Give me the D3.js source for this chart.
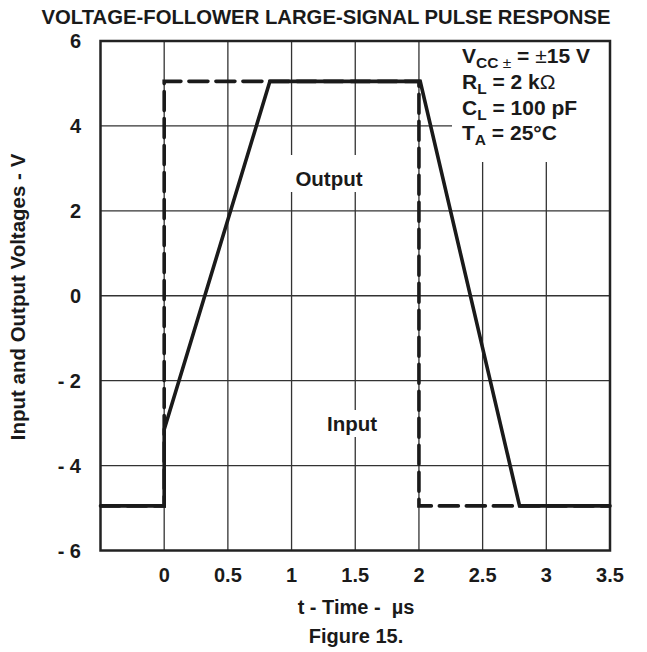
<!DOCTYPE html>
<html><head><meta charset="utf-8">
<script src="https://cdn.jsdelivr.net/npm/d3@7"></script>
<style>body{margin:0;background:#fff}svg{display:block}text{font-family:"Liberation Sans",Arial,Helvetica,sans-serif;font-weight:bold;fill:#1a1a1a}</style>
</head><body>
<script>
const title = "VOLTAGE-FOLLOWER LARGE-SIGNAL PULSE RESPONSE";
const xTicks = [0, 0.5, 1, 1.5, 2, 2.5, 3, 3.5];
const xTickLabels = ["0", "0.5", "1", "1.5", "2", "2.5", "3", "3.5"];
const yTicks = [6, 4, 2, 0, -2, -4, -6];
const yTickLabels = ["6", "4", "2", "0", "- 2", "- 4", "- 6"];
const inputT = [-0.5, 0, 0, 2, 2, 3.5];
const inputV = [-4.95, -4.95, 5.05, 5.05, -4.95, -4.95];
const outputT = [-0.5, 0, 0, 0.83, 2.01, 2.79, 3.5];
const outputV = [-4.95, -4.95, -3.15, 5.05, 5.05, -4.95, -4.95];

const W = 647, H = 652;
const svg = d3.select("body").append("svg").attr("width", W).attr("height", H);
const x = d3.scaleLinear().domain([-0.5, 3.5]).range([100.5, 610]);
const y = d3.scaleLinear().domain([-6, 6]).range([550.5, 41]);

// gridlines
const grid = svg.append("g").attr("stroke", "#333").attr("stroke-width", 1.3);
xTicks.filter(t => t > -0.5 && t < 3.5).forEach(t => {
  grid.append("line").attr("x1", x(t)).attr("x2", x(t)).attr("y1", y(6)).attr("y2", y(-6));
});
yTicks.filter(v => v > -6 && v < 6).forEach(v => {
  grid.append("line").attr("x1", x(-0.5)).attr("x2", x(3.5)).attr("y1", y(v)).attr("y2", y(v));
});

// white masks behind annotations (gridlines interrupted)
svg.append("rect").attr("x", 452).attr("y", y(6)).attr("width", x(3.5) - 452).attr("height", 162 - y(6)).attr("fill", "#fff");
svg.append("rect").attr("x", 286).attr("y", 155).attr("width", 82).attr("height", 37).attr("fill", "#fff");
svg.append("rect").attr("x", 322).attr("y", 410).attr("width", 60).attr("height", 27).attr("fill", "#fff");

// frame
svg.append("rect").attr("x", x(-0.5)).attr("y", y(6)).attr("width", x(3.5) - x(-0.5)).attr("height", y(-6) - y(6))
  .attr("fill", "none").attr("stroke", "#222").attr("stroke-width", 2.5);

const line = d3.line().x(d => x(d[0])).y(d => y(d[1]));
// input (dashed)
svg.append("path").datum(inputT.map((t, i) => [t, inputV[i]])).attr("d", line)
  .attr("fill", "none").attr("stroke", "#1a1a1a").attr("stroke-width", 3.6)
  .attr("stroke-dasharray", "19,8").attr("stroke-linecap", "round");
// output (solid)
svg.append("path").datum(outputT.map((t, i) => [t, outputV[i]])).attr("d", line)
  .attr("fill", "none").attr("stroke", "#1a1a1a").attr("stroke-width", 3.6).attr("stroke-linejoin", "miter");

const FS = 20;
// tick labels
xTicks.forEach((t, i) => {
  svg.append("text").attr("x", x(t)).attr("y", 582).attr("text-anchor", "middle")
    .attr("font-size", FS).text(xTickLabels[i]);
});
yTicks.forEach((v, i) => {
  svg.append("text").attr("x", 81).attr("y", y(v) + 7).attr("text-anchor", "end")
    .attr("font-size", FS).text(yTickLabels[i]);
});

// title
svg.append("text").attr("x", 326).attr("y", 24).attr("text-anchor", "middle").attr("font-size", 20.3).text(title);

// axis titles
svg.append("text").attr("x", 356).attr("y", 614).attr("text-anchor", "middle").attr("font-size", FS)
  .attr("xml:space", "preserve").text("t - Time -  µs");
svg.append("text").attr("x", 356).attr("y", 643).attr("text-anchor", "middle").attr("font-size", FS).text("Figure 15.");
svg.append("text").attr("transform", "translate(25,297) rotate(-90)").attr("text-anchor", "middle")
  .attr("font-size", 20.5).text("Input and Output Voltages - V");

// curve labels
svg.append("text").attr("x", 329).attr("y", 186).attr("text-anchor", "middle").attr("font-size", 20.5).text("Output");
svg.append("text").attr("x", 352).attr("y", 431).attr("text-anchor", "middle").attr("font-size", 20.5).text("Input");

// conditions
const cx = 462, fs = 21, ss = 15.5;
const l1 = svg.append("text").attr("x", cx).attr("y", 63).attr("font-size", fs);
l1.append("tspan").text("V");
l1.append("tspan").attr("dy", 5).attr("font-size", ss).text("CC");
l1.append("tspan").attr("font-size", ss).attr("font-weight", "normal").text(" ±");
l1.append("tspan").attr("dy", -5).text(" = ");
l1.append("tspan").attr("font-weight", "normal").text("±");
l1.append("tspan").text("15 V");
const l2 = svg.append("text").attr("x", cx).attr("y", 89).attr("font-size", fs);
l2.append("tspan").text("R");
l2.append("tspan").attr("dy", 5).attr("font-size", ss).text("L");
l2.append("tspan").attr("dy", -5).text(" = 2 k");
l2.append("tspan").attr("font-weight", "normal").text("Ω");
const l3 = svg.append("text").attr("x", cx).attr("y", 115).attr("font-size", fs);
l3.append("tspan").text("C");
l3.append("tspan").attr("dy", 5).attr("font-size", ss).text("L");
l3.append("tspan").attr("dy", -5).text(" = 100 pF");
const l4 = svg.append("text").attr("x", cx).attr("y", 140).attr("font-size", fs);
l4.append("tspan").text("T");
l4.append("tspan").attr("dy", 5).attr("font-size", ss).text("A");
l4.append("tspan").attr("dy", -5).text(" = 25°C");
</script>
</body></html>
